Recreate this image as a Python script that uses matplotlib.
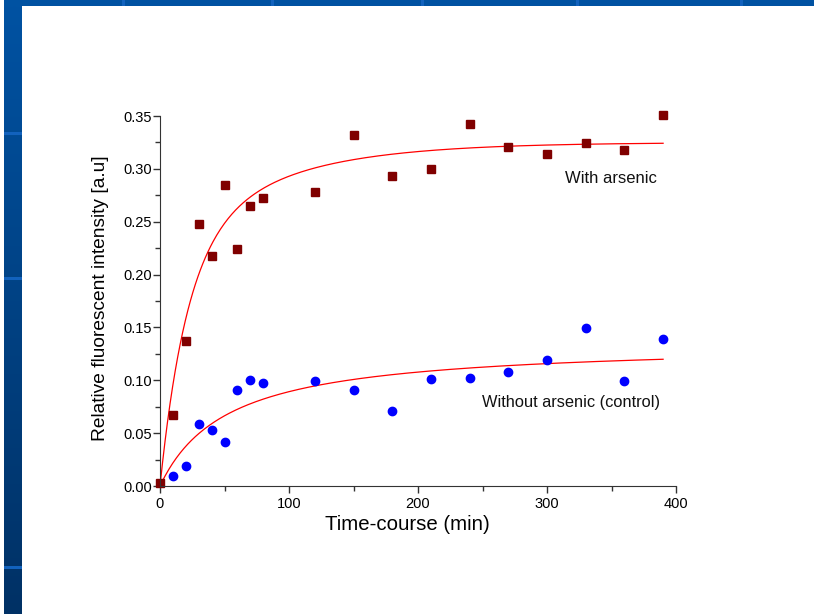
import numpy as np
import matplotlib
matplotlib.use('Agg')
import matplotlib.pyplot as plt
from matplotlib.patches import Rectangle
from matplotlib.ticker import MultipleLocator

plt.rcParams['font.family'] = ['Liberation Sans', 'DejaVu Sans']

# sampling times (min)
time = [0, 10, 20, 30, 40, 50, 60, 70, 80, 120, 150, 180, 210, 240, 270, 300, 330, 360, 390]
# relative fluorescent intensity, with arsenic
with_as = [0.003, 0.067, 0.137, 0.248, 0.218, 0.285, 0.224, 0.265, 0.272, 0.278,
           0.332, 0.293, 0.300, 0.342, 0.321, 0.314, 0.324, 0.318, 0.351]
# without arsenic (control)
time_ctrl = time[1:]
without_as = [0.009, 0.019, 0.059, 0.053, 0.042, 0.091, 0.100, 0.097, 0.099,
              0.091, 0.071, 0.101, 0.102, 0.108, 0.119, 0.149, 0.099, 0.139]

# fitted curve parameters
as_fit = (0.22, 21.0, 0.105, 80.0)   # A1, t1, A2, t2 (two-term exp association)
ctrl_fit = (0.136, 52.4)             # P1, P2 (hyperbola)

fig = plt.figure(figsize=(8.14, 6.14), dpi=100)

# slide decoration: blue bars on the left and top
W, H = 814, 614
grad = fig.add_axes([4 / W, 0, 18 / W, 1 - 6 / H])
grad.imshow(np.linspace(0, 1, 256).reshape(-1, 1), aspect='auto',
            cmap=matplotlib.colors.LinearSegmentedColormap.from_list('b', ['#0052a2', '#003165']))
grad.axis('off')
fig.add_artist(Rectangle((4 / W, 1 - 6 / H), 1, 6 / H, transform=fig.transFigure,
                         color='#0052a2', lw=0))
for yy in [133, 278, 567]:
    fig.add_artist(Rectangle((4 / W, 1 - (yy + 2) / H), 18 / W, 3 / H,
                             transform=fig.transFigure, color='#1262bd', lw=0))
for xx in [122, 271, 421, 576, 740]:
    fig.add_artist(Rectangle((xx / W, 1 - 6 / H), 3 / W, 6 / H,
                             transform=fig.transFigure, color='#1262bd', lw=0))

ax = fig.add_axes([160 / W, 1 - 486 / H, 516 / W, 370 / H])

xs = np.linspace(0, 390, 400)
a1, t1, a2, t2 = as_fit
ax.plot(xs, a1 * (1 - np.exp(-xs / t1)) + a2 * (1 - np.exp(-xs / t2)), color='red', lw=0.9)
p1, p2 = ctrl_fit
ax.plot(xs, p1 * xs / (p2 + xs), color='red', lw=0.9)

ax.plot(time_ctrl, without_as, 'o', color='#0000ff', ms=6, mec='#0000ff', clip_on=False)
ax.plot(time, with_as, 's', color='#800000', ms=6.2, mec='#800000', clip_on=False)

ax.text(314, 0.291, 'With arsenic', fontsize=12, va='center', color='#111111')
ax.text(250, 0.0788, 'Without arsenic (control)', fontsize=11.8, va='center', color='#111111')

ax.set_xlim(0, 400)
ax.set_ylim(0, 0.35)
ax.xaxis.set_major_locator(MultipleLocator(100))
ax.xaxis.set_minor_locator(MultipleLocator(50))
ax.yaxis.set_major_locator(MultipleLocator(0.05))
ax.yaxis.set_minor_locator(MultipleLocator(0.025))
ax.yaxis.set_major_formatter(matplotlib.ticker.FormatStrFormatter('%.2f'))
ax.tick_params(which='major', length=4.8, width=1, labelsize=10.5, color='#333333', pad=1)
ax.tick_params(which='minor', length=3.3, width=1, color='#333333')
ax.tick_params(axis='x', which='major', pad=3)
for s in ['top', 'right']:
    ax.spines[s].set_visible(False)
for s in ['left', 'bottom']:
    ax.spines[s].set_color('#333333')
ax.set_xlabel('Time-course (min)', fontsize=14.7, labelpad=3)
ax.set_ylabel('Relative fluorescent intensity [a.u]', fontsize=13.8, labelpad=10)
ax.xaxis.label.set_x(0.48)
ax.yaxis.label.set_y(0.507)

fig.savefig('out.png', dpi=100)
